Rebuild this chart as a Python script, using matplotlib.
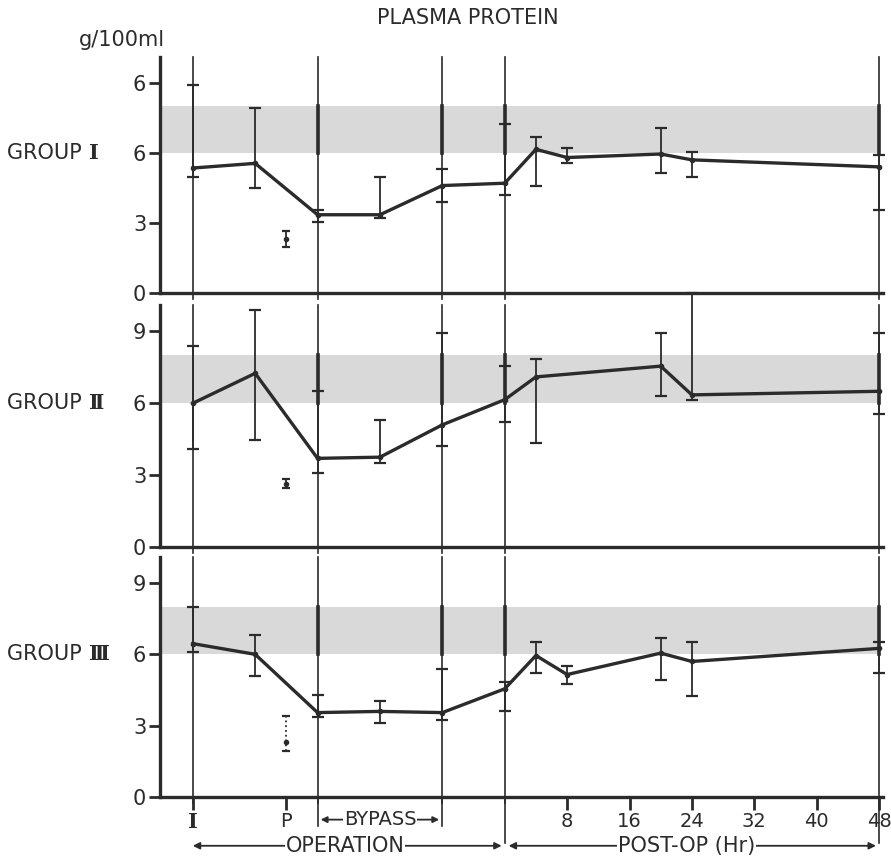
import matplotlib
matplotlib.use("Agg")
import matplotlib.pyplot as plt

plt.rcParams['font.family'] = ['DejaVu Sans']

# x positions: operation stages placed on an hour-like scale, post-op in hours
x_main = [-40, -32, -24, -16, -8, 0, 4, 8, 20, 24, 48]
x_g2 = [-40, -32, -24, -16, -8, 0, 4, 20, 24, 48]   # no 8 hr point in group II
x_p = -28
x_ref = [-40, -24, -8, 0, 48]

# group I
g1_mean = [5.35, 5.55, 3.35, 3.35, 4.6, 4.7, 6.15, 5.8, 5.95, 5.7, 5.4]
g1_lo = [4.95, 4.5, 3.05, 3.2, 3.9, 4.2, 4.6, 5.55, 5.15, 4.95, 3.55]
g1_hi = [8.9, 7.9, 3.55, 4.95, 5.3, 7.25, 6.7, 6.2, 7.05, 6.05, 5.9]
g1_p = [2.3, 1.95, 2.65]

# group II
g2_mean = [6.0, 7.25, 3.7, 3.75, 5.1, 6.15, 7.1, 7.55, 6.35, 6.5]
g2_lo = [4.1, 4.45, 3.1, 3.5, 4.2, 5.2, 4.35, 6.3, 6.15, 5.55]
g2_hi = [8.4, 9.9, 6.5, 5.3, 8.95, 7.55, 7.85, 8.95, 10.6, 8.95]
g2_p = [2.65, 2.45, 2.85]

# group III
g3_mean = [6.45, 6.0, 3.55, 3.6, 3.55, 4.55, 5.95, 5.15, 6.05, 5.7, 6.25]
g3_lo = [6.1, 5.1, 3.35, 3.1, 3.25, 3.6, 5.2, 4.75, 4.9, 4.25, 5.2]
g3_hi = [8.0, 6.8, 4.3, 4.05, 5.4, 4.85, 6.5, 5.5, 6.7, 6.5, 6.5]
g3_p = [2.3, 1.95, 3.4]

normal_lo, normal_hi = 6, 8
ytick_vals = [0, 3, 6, 9]
xtick_vals = [-40, -28, 8, 16, 24, 32, 40, 48]
xtick_labels = ['I', 'P', '8', '16', '24', '32', '40', '48']

ink = '#2b2b2b'
band = '#d9d9d9'
serif = ['DejaVu Serif', 'DejaVu Sans']

fig = plt.figure(figsize=(8.91, 8.61), dpi=100)

panels = [
    ('I', [0.1796, 0.6597, 0.8114, 0.274], x_main, g1_mean, g1_lo, g1_hi, g1_p, ['0', '3', '6', '6'], False),
    ('\u2161', [0.1796, 0.3647, 0.8114, 0.281], x_g2, g2_mean, g2_lo, g2_hi, g2_p, ['0', '3', '6', '9'], False),
    ('\u2162', [0.1796, 0.0743, 0.8114, 0.279], x_main, g3_mean, g3_lo, g3_hi, g3_p, ['0', '3', '6', '9'], True),
]

for num, rect, xs, m, lo, hi, p, ylabels, bottom in panels:
    ax = fig.add_axes(rect)
    ax.set_xlim(-44.2, 48.5)
    ax.set_ylim(0, 10.1)
    ax.axhspan(normal_lo, normal_hi, xmax=0.995, color=band, zorder=0, lw=0)

    # reference verticals
    for xr in x_ref:
        ax.plot([xr, xr], [-0.25, 10.1], color=ink, lw=1.2, zorder=1, clip_on=False)
        if xr != -40:
            ax.plot([xr, xr], [normal_lo, normal_hi], color=ink, lw=2.6, zorder=1)

    ax.plot(xs, m, color=ink, lw=2.4, marker='o', ms=3, zorder=3)
    yerr = [[a - b for a, b in zip(m, lo)], [b - a for a, b in zip(m, hi)]]
    eb = ax.errorbar(xs, m, yerr=yerr, fmt='none', ecolor=ink, elinewidth=1.3,
                     capsize=4, capthick=1.6, zorder=3)
    for art in eb.lines[1] + eb.lines[2]:
        art.set_clip_on(False)

    eb2 = ax.errorbar([x_p], [p[0]], yerr=[[p[0] - p[1]], [p[2] - p[0]]], fmt='o', ms=3,
                      color=ink, elinewidth=1.3, capsize=3, capthick=1.6, zorder=3)
    if bottom:
        eb2.lines[2][0].set_linestyle(':')

    for s in ['top', 'right']:
        ax.spines[s].set_visible(False)
    for s in ['left', 'bottom']:
        ax.spines[s].set_linewidth(2.4)
        ax.spines[s].set_color(ink)

    ax.set_yticks(ytick_vals)
    ax.set_yticklabels(ylabels)
    ax.tick_params(axis='y', direction='out', length=8, width=2, color=ink,
                   labelsize=15, labelcolor=ink, pad=2)

    if bottom:
        ax.set_xticks(xtick_vals)
        ax.set_xticklabels(xtick_labels)
        ax.tick_params(axis='x', direction='out', length=9, width=2, color=ink,
                       labelsize=14, labelcolor=ink, pad=2)
        first = ax.get_xticklabels()[0]
        first.set_family(serif)
        first.set_fontweight('bold')
        first.set_fontsize(15)
        # extend stage lines below the axis
        for xr, y0 in [(-24, -1.2), (-8, -1.2), (0, -1.95), (48, -1.95)]:
            ax.plot([xr, xr], [y0, 0], color=ink, lw=1.2, clip_on=False)
        # bypass arrow
        ax.annotate('', xy=(-23.6, -0.95), xytext=(-8.4, -0.95),
                    arrowprops=dict(arrowstyle='<|-|>', color=ink, lw=1.3,
                                    mutation_scale=9, shrinkA=0, shrinkB=0),
                    annotation_clip=False)
        ax.text(-16, -0.95, 'BYPASS', ha='center', va='center', fontsize=14, color=ink,
                bbox=dict(facecolor='white', edgecolor='none', pad=0.3))
        # operation arrow
        ax.annotate('', xy=(-40, -2.05), xytext=(-0.4, -2.05),
                    arrowprops=dict(arrowstyle='<|-|>', color=ink, lw=1.3,
                                    mutation_scale=10, shrinkA=0, shrinkB=0),
                    annotation_clip=False)
        ax.text(-20.5, -2.05, 'OPERATION', ha='center', va='center', fontsize=15, color=ink,
                bbox=dict(facecolor='white', edgecolor='none', pad=0.5))
        # post-op arrow
        ax.annotate('', xy=(0.5, -2.05), xytext=(47.6, -2.05),
                    arrowprops=dict(arrowstyle='<|-|>', color=ink, lw=1.3,
                                    mutation_scale=10, shrinkA=0, shrinkB=0),
                    annotation_clip=False)
        ax.text(23.3, -2.05, 'POST-OP (Hr)', ha='center', va='center', fontsize=15, color=ink,
                bbox=dict(facecolor='white', edgecolor='none', pad=0.5))
    else:
        ax.set_xticks([])

    # group label level with the 6 tick, numeral in a serif face
    y6 = rect[1] + rect[3] * 6 / 10.1
    t = fig.text(0.008, y6, 'GROUP ', ha='left', va='center', fontsize=15, color=ink)
    ax.annotate(num, xy=(1.0, 0.5), xycoords=t, ha='left', va='center',
                fontsize=15, fontweight='bold', family=serif, color=ink,
                annotation_clip=False)

fig.text(0.525, 0.979, 'PLASMA PROTEIN', ha='center', va='center', fontsize=15, color=ink)
fig.text(0.137, 0.953, 'g/100ml', ha='center', va='center', fontsize=15, color=ink)

fig.savefig('out.png', dpi=100)
